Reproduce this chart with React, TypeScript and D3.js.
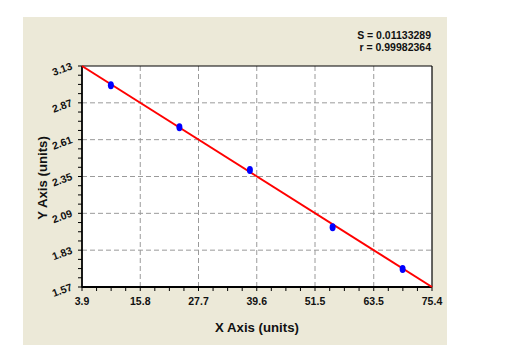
import React from "react";
import * as d3 from "d3";

const xTicks = [3.9, 15.8, 27.7, 39.6, 51.5, 63.5, 75.4];
const yTicks = [1.57, 1.83, 2.09, 2.35, 2.61, 2.87, 3.13];
const pointX = [9.8, 23.8, 38.2, 55.1, 69.4];
const pointY = [2.994, 2.697, 2.396, 1.991, 1.697];
const fitX = [3.9, 75.4];
const fitY = [3.13, 1.57];
const statLines = ["S = 0.01133289", "r = 0.99982364"];
const xTitle = "X Axis (units)";
const yTitle = "Y Axis (units)";

const W = 531, H = 345;
const M = { left: 82, right: 432, top: 66, bottom: 287 };
const FONT = "'Liberation Sans', Arial, sans-serif";

export default function App() {
  const x = d3.scaleLinear().domain([xTicks[0], xTicks[xTicks.length - 1]]).range([M.left, M.right]);
  const y = d3.scaleLinear().domain([yTicks[0], yTicks[yTicks.length - 1]]).range([M.bottom, M.top]);

  const xMinor: number[] = [];
  for (let i = 0; i < xTicks.length - 1; i++) {
    for (let k = 1; k < 4; k++) xMinor.push(xTicks[i] + ((xTicks[i + 1] - xTicks[i]) * k) / 4);
  }
  const yMinor: number[] = [];
  for (let i = 0; i < yTicks.length - 1; i++) {
    for (let k = 1; k < 4; k++) yMinor.push(yTicks[i] + ((yTicks[i + 1] - yTicks[i]) * k) / 4);
  }

  const line = d3.line<number>().x((d, i) => x(fitX[i])).y((d, i) => y(fitY[i]));

  return (
    <div style={{ position: "fixed", left: 0, top: 0 }}>
      <svg width={W} height={H} style={{ display: "block" }}>
        <rect x={0} y={0} width={W} height={H} fill="#ffffff" />
        <rect x={23} y={17} width={424} height={H - 17} fill="#ECE9D8" />
        <rect x={M.left} y={M.top} width={M.right - M.left} height={M.bottom - M.top} fill="#ffffff" />
        {/* grid */}
        {xTicks.slice(1, -1).map((t) => (
          <line key={"gx" + t} x1={x(t)} x2={x(t)} y1={M.top} y2={M.bottom} stroke="#9a9a9a" strokeWidth={1} strokeDasharray="5,3" />
        ))}
        {yTicks.slice(1, -1).map((t) => (
          <line key={"gy" + t} x1={M.left} x2={M.right} y1={y(t)} y2={y(t)} stroke="#9a9a9a" strokeWidth={1} strokeDasharray="5,3" />
        ))}
        {/* frame */}
        <line x1={M.left} x2={M.right} y1={M.top} y2={M.top} stroke="#000" strokeWidth={1.2} />
        <line x1={M.right} x2={M.right} y1={M.top} y2={M.bottom} stroke="#000" strokeWidth={1.2} />
        <line x1={M.left} x2={M.left} y1={M.top} y2={M.bottom + 0.5} stroke="#000" strokeWidth={1.8} />
        <line x1={M.left} x2={M.right} y1={M.bottom} y2={M.bottom} stroke="#000" strokeWidth={1.8} />
        {/* x ticks */}
        {xTicks.concat(xMinor).map((t, i) => (
          <line key={"xt" + i} x1={x(t)} x2={x(t)} y1={M.bottom} y2={M.bottom + 4} stroke="#000" strokeWidth={1} />
        ))}
        {yTicks.concat(yMinor).map((t, i) => (
          <line key={"yt" + i} x1={M.left - 4} x2={M.left} y1={y(t)} y2={y(t)} stroke="#000" strokeWidth={1} />
        ))}
        {/* x tick labels */}
        {xTicks.map((t) => (
          <text key={"xl" + t} x={x(t)} y={M.bottom + 18} textAnchor="middle" fontFamily={FONT} fontWeight="bold" fontSize={10.5} fill="#111">
            {t.toFixed(1)}
          </text>
        ))}
        {/* y tick labels */}
        {yTicks.map((t) => (
          <text key={"yl" + t} transform={`translate(${M.left - 9},${y(t) + 3}) rotate(-20)`} textAnchor="end" fontFamily={FONT} fontWeight="bold" fontSize={10.5} fill="#111">
            {t.toFixed(2)}
          </text>
        ))}
        {/* fit line */}
        <path d={line(fitX) || ""} fill="none" stroke="#ff0000" strokeWidth={2} />
        {/* points */}
        {pointX.map((px, i) => (
          <ellipse key={"p" + i} cx={x(px)} cy={y(pointY[i])} rx={3} ry={4} fill="#0000ff" />
        ))}
        {/* stats */}
        {statLines.map((s, i) => (
          <text key={"s" + i} x={431} y={39 + i * 12} textAnchor="end" fontFamily={FONT} fontWeight="bold" fontSize={10.5} fill="#111">
            {s}
          </text>
        ))}
        {/* titles */}
        <text x={257} y={332} textAnchor="middle" fontFamily={FONT} fontWeight="bold" fontSize={13.2} fill="#111">
          {xTitle}
        </text>
        <text transform={`translate(47,178) rotate(-90)`} textAnchor="middle" fontFamily={FONT} fontWeight="bold" fontSize={13.2} fill="#111">
          {yTitle}
        </text>
      </svg>
    </div>
  );
}
